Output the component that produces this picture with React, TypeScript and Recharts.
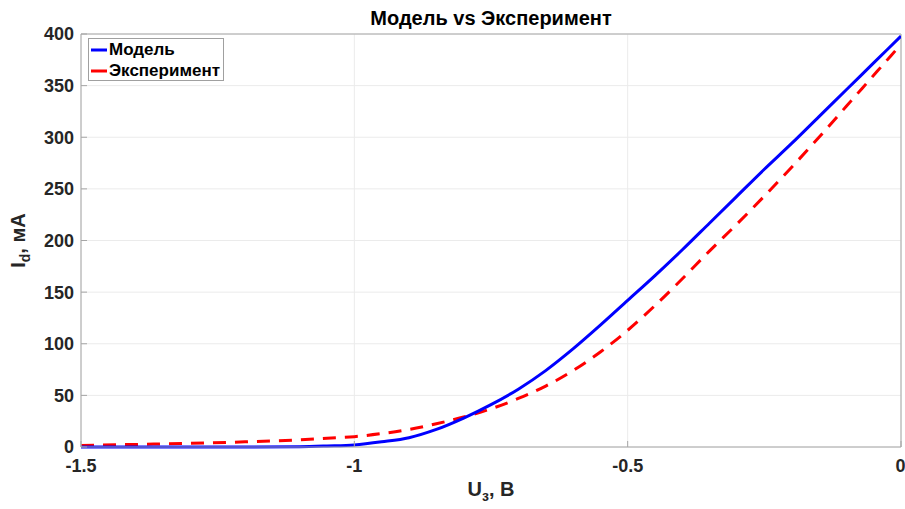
import React from 'react';
import { LineChart, Line, XAxis, YAxis, CartesianGrid, ReferenceLine } from 'recharts';

const uValues = [-1.5, -1.4, -1.3, -1.2, -1.1, -1.05, -1.0, -0.95, -0.9, -0.85, -0.8, -0.75, -0.7, -0.65, -0.6, -0.55, -0.5, -0.45, -0.4, -0.35, -0.3, -0.25, -0.2, -0.15, -0.1, -0.05, 0];
const modelValues = [0, 0, 0, 0, 0.3, 1, 2, 5, 9, 17, 28, 41, 56, 74, 95, 118, 142, 166, 191, 217, 243, 269, 294, 320, 346, 372, 398];
const experimentValues = [1.5, 2.5, 3.5, 5, 7, 8.5, 10, 13, 17, 22.5, 29, 37, 47, 59, 74, 92, 113, 137, 163, 190, 216, 243, 271, 300, 330, 360, 390];
const xTicks = [-1.5, -1, -0.5, 0];
const yTicks = [0, 50, 100, 150, 200, 250, 300, 350, 400];
const seriesNames = ['Модель', 'Эксперимент'];
const seriesColors = ['#0000FF', '#FF0000'];
const titleText = 'Модель vs Эксперимент';

const data = uValues.map((u, i) => ({ u, model: modelValues[i], exp: experimentValues[i] }));

const FONT = '"Liberation Sans", Arial, sans-serif';
const TICK_STYLE = { fill: '#262626', fontSize: 18, fontWeight: 700, fontFamily: FONT };

const LegendBox = () => (
  <div
    style={{
      position: 'absolute',
      left: 88,
      top: 38,
      width: 136,
      height: 43,
      boxSizing: 'border-box',
      border: '1px solid #a0a0a0',
      background: '#fff',
      padding: '0px 2px',
      fontFamily: FONT,
      fontWeight: 700,
      fontSize: 17,
      color: '#000',
      lineHeight: '21px',
    }}
  >
    {seriesNames.map((n, i) => (
      <div key={n} style={{ display: 'flex', alignItems: 'center', whiteSpace: 'nowrap' }}>
        <svg width={16} height={6} style={{ marginRight: 2, flex: 'none' }}>
          <line x1={0} y1={3} x2={16} y2={3} stroke={seriesColors[i]} strokeWidth={3} />
        </svg>
        <span>{n}</span>
      </div>
    ))}
  </div>
);

export default function App() {
  return (
    <div style={{ position: 'absolute', left: 0, top: 0, width: 905, height: 509, background: '#fff' }}>
      <LineChart width={905} height={509} data={data} margin={{ top: 34, right: 4, bottom: 32, left: 0 }}>
        <text x={491} y={25} textAnchor="middle" fontFamily={FONT} fontWeight={700} fontSize={20} fill="#000">
          {titleText}
        </text>
        <CartesianGrid stroke="#ebebeb" strokeWidth={1} />
        <XAxis
          dataKey="u"
          type="number"
          domain={[-1.5, 0]}
          ticks={xTicks}
          allowDataOverflow
          height={30}
          tick={TICK_STYLE}
          tickSize={-6}
          tickMargin={18}
          stroke="#a6a6a6"
          label={(props: any) => {
            const vb = props.viewBox || {};
            const cx = (vb.x ?? 81) + (vb.width ?? 820) / 2;
            return (
              <text x={cx} y={496} textAnchor="middle" fontFamily={FONT} fontWeight={700} fontSize={20} fill="#262626">
                U<tspan dy={5} fontSize={14}>з</tspan>
                <tspan dy={-5}>, В</tspan>
              </text>
            );
          }}
        />
        <YAxis
          type="number"
          domain={[0, 400]}
          ticks={yTicks}
          width={81}
          tick={TICK_STYLE}
          tickSize={-6}
          tickMargin={13}
          stroke="#a6a6a6"
          label={(props: any) => {
            const vb = props.viewBox || {};
            const cy = (vb.y ?? 34) + (vb.height ?? 413) / 2;
            return (
              <text
                x={25}
                y={cy}
                transform={`rotate(-90 25 ${cy})`}
                textAnchor="middle"
                fontFamily={FONT}
                fontWeight={700}
                fontSize={20}
                fill="#262626"
              >
                I<tspan dy={5} fontSize={14}>d</tspan>
                <tspan dy={-5}>, мА</tspan>
              </text>
            );
          }}
        />
        <ReferenceLine y={400} stroke="#a6a6a6" />
        <ReferenceLine x={0} stroke="#a6a6a6" />
        <Line
          type="monotone"
          dataKey="exp"
          name={seriesNames[1]}
          stroke={seriesColors[1]}
          strokeWidth={3}
          strokeDasharray="13 9"
          dot={false}
          isAnimationActive={false}
        />
        <Line
          type="monotone"
          dataKey="model"
          name={seriesNames[0]}
          stroke={seriesColors[0]}
          strokeWidth={3}
          dot={false}
          isAnimationActive={false}
        />
      </LineChart>
      <LegendBox />
    </div>
  );
}
